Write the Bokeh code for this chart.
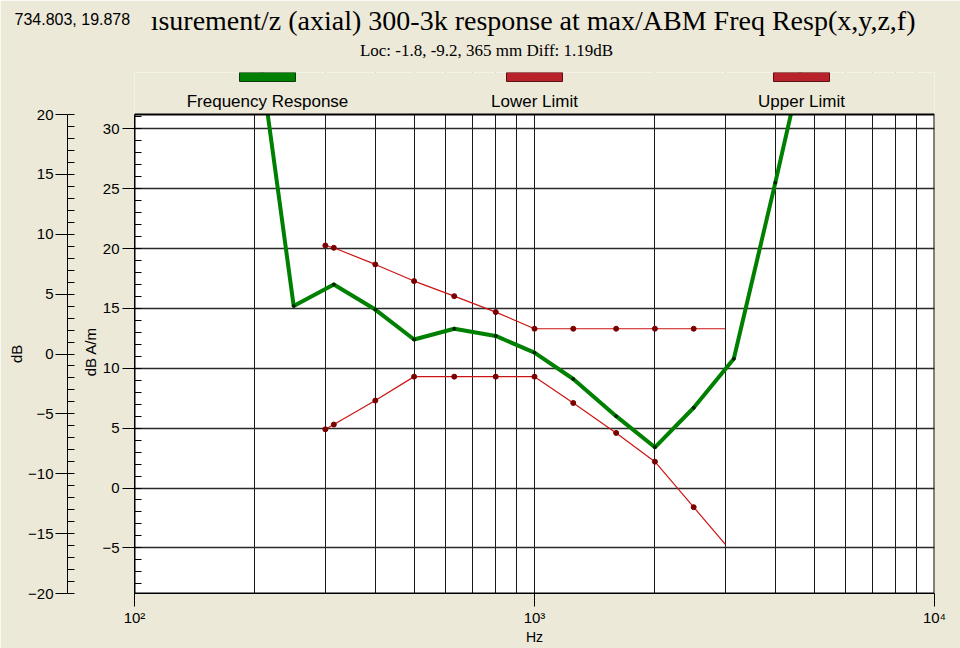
from bokeh.plotting import figure
from bokeh.models import Range1d, LinearAxis, FixedTicker, Label, BoxAnnotation, LinearScale
from bokeh.embed import file_html
from bokeh.resources import INLINE

# ---------------- data ----------------
coord_text = "734.803, 19.878"
title_text = "\u0131surement/z (axial) 300-3k response at max/ABM Freq Resp(x,y,z,f)"
subtitle_text = "Loc: -1.8, -9.2, 365 mm Diff: 1.19dB"
series_names = ["Frequency Response", "Lower Limit", "Upper Limit"]

resp_hz = [200, 250, 315, 400, 500, 630, 800, 1000, 1250, 1600, 2000, 2500, 3150, 4000, 5000]
resp_db = [39.1, 15.2, 17.0, 14.9, 12.4, 13.3, 12.7, 11.3, 9.1, 6.0, 3.4, 6.7, 10.8, 25.5, 39.7]

limit_hz = [300, 315, 400, 500, 630, 800, 1000, 1250, 1600, 2000, 2500, 3000]
lower_db = [4.9, 5.3, 7.3, 9.3, 9.3, 9.3, 9.3, 7.1, 4.6, 2.2, -1.6, -4.7]
upper_db = [20.25, 20.06, 18.67, 17.28, 16.02, 14.69, 13.3, 13.3, 13.3, 13.3, 13.3, 13.3]

x_major = [100, 1000, 10000]
x_labels = ["10\u00b2", "10\u00b3", "10\u2074"]
x_minor = [200, 300, 400, 500, 600, 700, 800, 900,
           2000, 3000, 4000, 5000, 6000, 7000, 8000, 9000]
y_lo, y_hi = -8.81, 31.19          # dB A/m scale limits
db_lo, db_hi = -20, 20             # dB scale limits
y_major = [-5, 0, 5, 10, 15, 20, 25, 30]
y_minor = list(range(-8, 32))
db_major = [-20, -15, -10, -5, 0, 5, 10, 15, 20]
db_minor = list(range(-20, 21))

# ---------------- layout / style ----------------
BG = "#ECE9D8"
GREEN = "#008000"
RED = "#CC1414"
SANS = "Liberation Sans"
SERIF = "Liberation Serif"
W, H = 960, 648
FRAME_TOP, PLOT_TOP, PLOT_BOT, PLOT_L, PLOT_R = 72, 114, 593, 134, 934
k = (PLOT_BOT - PLOT_TOP) / (y_hi - y_lo)          # px per unit
y_end = y_hi + (PLOT_TOP - FRAME_TOP) / k
db_end = db_hi + (PLOT_TOP - FRAME_TOP) / k
NB = "\u00a0"

p = figure(width=W, height=H, x_axis_type="log", x_range=Range1d(100, 10000),
           y_range=Range1d(y_lo, y_end), output_backend="svg", toolbar_location=None,
           min_border_left=PLOT_L, min_border_right=W - PLOT_R, min_border_top=FRAME_TOP,
           min_border_bottom=H - PLOT_BOT,
           background_fill_color="white", border_fill_color=BG, outline_line_color=None)
p.extra_y_ranges = {"db": Range1d(db_lo, db_end), "py": Range1d(PLOT_BOT, FRAME_TOP)}
p.extra_x_ranges = {"px": Range1d(PLOT_L, PLOT_R)}
p.extra_x_scales = {"px": LinearScale()}

xt = FixedTicker(ticks=x_major, minor_ticks=x_minor)
xa = p.xaxis[0]
xa.ticker = xt
xa.major_label_overrides = dict(zip(x_major, x_labels))
xa.axis_label = "Hz"
xa.major_tick_out = 13
xa.major_tick_in = 0
xa.minor_tick_in = 0
xa.minor_tick_out = 0
xa.major_label_standoff = 2
xa.axis_label_standoff = 0

ya = p.yaxis[0]
ya.ticker = FixedTicker(ticks=y_major, minor_ticks=y_minor)
ya.bounds = (y_lo, y_hi)
ya.axis_label = "dB A/m" + NB * 9
ya.major_tick_out = 12
ya.major_tick_in = 0
ya.minor_tick_in = 7
ya.minor_tick_out = 0
ya.major_label_standoff = 3
ya.axis_label_standoff = 0

# empty spacer axis between the two scales
dummy = LinearAxis(ticker=FixedTicker(ticks=[0]), axis_line_color=None, major_tick_out=12,
                   major_tick_in=0, minor_tick_out=0, minor_tick_in=0, major_label_standoff=0,
                   major_tick_line_color=None, major_label_overrides={0: ""})
p.add_layout(dummy, "left")

outer = LinearAxis(y_range_name="db", ticker=FixedTicker(ticks=db_major, minor_ticks=db_minor),
                   bounds=(db_lo, db_hi), axis_label="dB" + NB * 10, major_tick_out=12,
                   major_tick_in=0, minor_tick_in=7, minor_tick_out=0,
                   major_label_standoff=2, axis_label_standoff=0)
p.add_layout(outer, "left")

for ax in [xa, ya, outer]:
    ax.axis_line_color = "black"
    ax.major_tick_line_color = "black"
    ax.minor_tick_line_color = "black"
    ax.major_label_text_font = SANS
    ax.major_label_text_font_size = "15px"
    ax.major_label_text_color = "black"
    ax.axis_label_text_font = SANS
    ax.axis_label_text_font_size = "15px"
    ax.axis_label_text_font_style = "normal"
    ax.axis_label_text_color = "black"
xa.axis_label_text_font_size = "14px"

p.xgrid.ticker = xt
p.xgrid.grid_line_color = "#1a1a1a"
p.xgrid.grid_line_width = 1
p.xgrid.minor_grid_line_color = "#1a1a1a"
p.xgrid.minor_grid_line_width = 1
p.ygrid.ticker = FixedTicker(ticks=y_major)
p.ygrid.grid_line_color = "#2a2a2a"
p.ygrid.grid_line_width = 1.6

p.line(limit_hz, upper_db, line_color=RED, line_width=1.2)
p.scatter(limit_hz[:-1], upper_db[:-1], size=5, fill_color="#7A0000", line_color="#7A0000")
p.line(limit_hz, lower_db, line_color=RED, line_width=1.2)
p.scatter(limit_hz[:-1], lower_db[:-1], size=5, fill_color="#7A0000", line_color="#7A0000")
p.line(resp_hz, resp_db, line_color=GREEN, line_width=4)
p.scatter(resp_hz[1:-1], resp_db[1:-1], size=3, fill_color="#002200", line_color="#002200")

pix = dict(x_range_name="px", y_range_name="py")
# header strip inside the frame, above the plot area
p.add_layout(BoxAnnotation(left=0, right=W, top=0, bottom=PLOT_TOP, fill_color=BG, fill_alpha=1,
                           line_color=None, **pix))
# plot-area border
p.add_layout(BoxAnnotation(left=100, right=10000, bottom=y_lo, top=y_hi, fill_color=None,
                           line_color="black", line_alpha=1, line_width=2))

# legend (swatch above its label)
leg_x = [267, 534, 801]
leg_fill = [GREEN, "#B8232B", "#B8232B"]
leg_line = ["#0A3A0A", "#5A1010", "#5A1010"]
for cx, name, fc, lc in zip(leg_x, series_names, leg_fill, leg_line):
    p.add_layout(BoxAnnotation(left=cx - 28, right=cx + 28, top=72, bottom=81,
                               fill_color=fc, fill_alpha=1, line_color=lc, line_alpha=1,
                               line_width=1, **pix))
    p.add_layout(Label(x=cx, y=100.5, text=name, text_font=SANS, text_font_size="17px",
                       text_align="center", text_baseline="middle", text_color="black",
                       x_units="data", y_units="data", **pix))

# titles in the top panel
hdr = dict(x_units="data", y_units="data", **pix)
p.add_layout(Label(x=915, y=20, text=title_text, text_font=SERIF, text_font_size="28px",
                   text_align="right", text_baseline="middle", text_color="black", **hdr), "above")
p.add_layout(Label(x=14, y=19, text=coord_text, text_font=SANS, text_font_size="16px",
                   text_align="left", text_baseline="middle", text_color="black", **hdr), "above")
p.add_layout(Label(x=486, y=50, text=subtitle_text, text_font=SERIF, text_font_size="17px",
                   text_align="center", text_baseline="middle", text_color="black", **hdr), "above")

open("out.html", "w").write(file_html(p, INLINE))
